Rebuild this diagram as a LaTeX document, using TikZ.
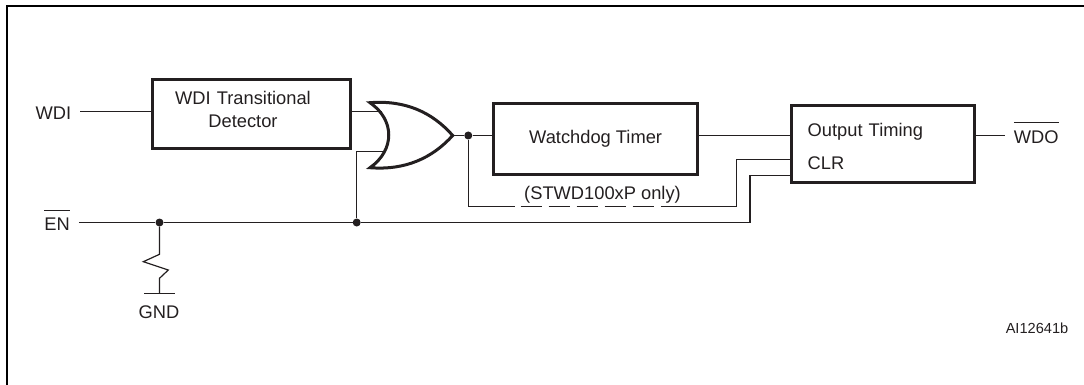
\documentclass[tikz,border=0pt]{standalone}
\usepackage{fontspec}
\setmainfont{Liberation Sans}
\definecolor{inkdark}{HTML}{231F20}
\newcommand{\barred}[1]{\setbox0=\hbox{#1}\rlap{\rule[19.8pt]{\wd0}{1.2pt}}\box0}
\tikzset{
    wire/.style={draw=inkdark, line width=1.2pt},
    blockbox/.style={draw=inkdark, line width=3pt, inner sep=0pt, text=inkdark,
                     font=\fontsize{18.3}{22.7}\selectfont},
    pinlabel/.style={anchor=base, inner sep=0pt, outer sep=9pt, text=inkdark,
                     font=\fontsize{18.3}{22}\selectfont},
    junction/.style={circle, fill=inkdark, inner sep=0pt, minimum size=8pt}
}
\begin{document}
\begin{tikzpicture}[x=1pt, y=-1pt]
    \useasboundingbox (0,0) rectangle (1084,385);
    \coordinate (framestart) at (7,385);
    \coordinate (framecorner) at (7,6);
    \coordinate (frameend) at (1084,6);
    \draw[line width=2pt, black] (framestart) -- (framecorner) -- (frameend);

    \node[pinlabel] (wdilabel) at (53.5,120) {WDI};
    \node[pinlabel] (enlabel) at (57.2,230.7) {\barred{EN}};
    \node[pinlabel] (wdolabel) at (1036.3,143.3) {\barred{WDO}};
    \node[pinlabel] (gndlabel) at (159,318.3) {GND};
    \node[pinlabel] (onlylabel) at (602.5,199.8) {(STWD100xP only)};
    \node[pinlabel, font=\fontsize{14.6}{18}\selectfont] (partlabel) at (1037,333.3) {AI12641b};

    \node[blockbox, minimum width=198pt, minimum height=68.5pt, text width=198pt,
          align=center, text depth=32pt] (transbox) at (251,113.8)
          {\hspace*{-16pt}WDI Transitional\\\hspace*{-16pt}Detector};
    \node[blockbox, minimum width=203.3pt, minimum height=70pt] (wdogbox) at (595.6,139) {Watchdog Timer};
    \node[blockbox, font=\fontsize{18.3}{32.3}\selectfont, minimum height=77pt, inner xsep=16pt,
          text width=150.6pt, align=left, text height=17.5pt] (outbox) at (883,144.2) {Output Timing\\CLR};

    \coordinate (orupper) at (381.5,111.5);
    \coordinate (orlower) at (384,151.5);
    \coordinate (orout) at (452.7,135.5);
    \coordinate (ortop) at (370,102.7);
    \coordinate (orbottom) at (370,167.7);
    \draw[line width=3pt, inkdark, miter limit=20] (ortop)
        .. controls (405,100) and (432,112) .. (orout)
        .. controls (432,158.4) and (405,170.4) .. (orbottom)
        .. controls (395,150) and (395,120) .. (ortop) -- cycle;

    \node[junction] (gndjoin) at (159.5,222.5) {};
    \node[junction] (orjoin) at (356.7,222.5) {};
    \node[junction] (outjoin) at (468.3,135.5) {};
    \coordinate (enbend) at (750,175.5);
    \coordinate (clrbend) at (736.7,206.5);
    \coordinate (clrpin) at (outbox.west |- 0,159.5);
    \coordinate (gndpin) at (159.5,293.5);

    \draw[wire] (wdilabel.east |- orupper) -- (transbox.west |- orupper);
    \draw[wire] (transbox.east |- orupper) -- (orupper);
    \draw[wire] (orlower) -| (orjoin);
    \draw[wire] (enlabel.east |- gndjoin) -- (gndjoin) -- (orjoin) -| (enbend) -- (outbox.west |- enbend);
    \draw[wire] (orout) -- (outjoin) -- (wdogbox.west |- outjoin);
    \draw[wire] (wdogbox.east |- orout) -- (outbox.west |- orout);
    \draw[wire] (outbox.east |- orout) -- (wdolabel.west |- orout);
    \draw[wire, dash pattern=on 113pt off 6pt on 21.7pt off 6.3pt on 21.7pt off 6.3pt on 21.7pt off 6.3pt on 21.7pt off 6.3pt on 21.7pt off 6.3pt on 400pt]
        (outjoin) |- (clrbend) |- (clrpin);
    \draw[wire] (gndjoin) -- (159.5,254.3) -- (143.3,261.7) -- (168.3,270) -- (159.5,278.3) -- (gndpin);
    \draw[wire] ([xshift=-15.5pt]gndpin) -- ([xshift=15.5pt]gndpin);
\end{tikzpicture}
\end{document}
